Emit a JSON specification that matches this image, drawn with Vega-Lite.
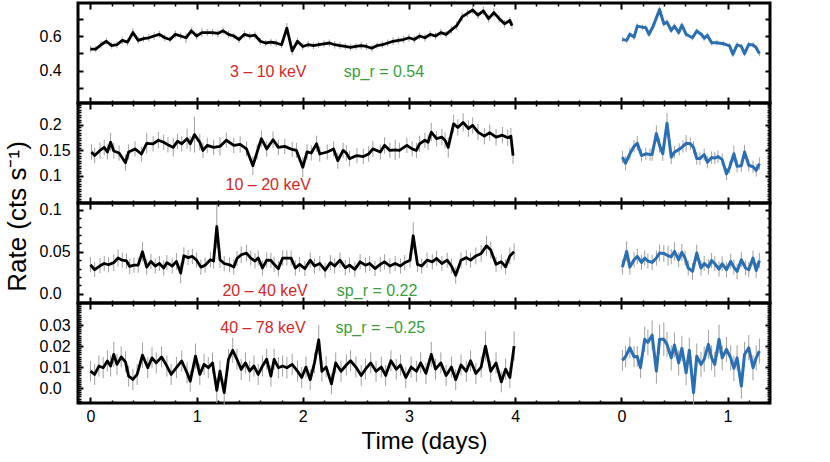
{
"$schema": "https://vega.github.io/schema/vega-lite/v6.json",
"background": "white",
"padding": {"left": 2, "top": 0, "right": 5, "bottom": 5},
"spacing": 0,
"bounds": "flush",
"config": {
 "view": {"stroke": "black", "strokeWidth": 3},
 "font": "Liberation Sans",
 "axis": {"domain": false, "grid": false, "tickColor": "black", "labelColor": "black", "labelFont": "Liberation Sans", "labelFontSize": 16, "titleFont": "Liberation Sans", "titleColor": "black", "titleFontWeight": "normal", "labelFlush": false, "labelOverlap": false}
},
"datasets": {
 "k1": [
  {"t":0,"r":0.525,"e":0.02},{"t":0.05,"r":0.525,"e":0.018},{"t":0.1,"r":0.55,"e":0.022},{"t":0.15,"r":0.57,"e":0.02},{"t":0.2,"r":0.545,"e":0.018},{"t":0.25,"r":0.55,"e":0.02},{"t":0.3,"r":0.575,"e":0.022},{"t":0.35,"r":0.565,"e":0.02},{"t":0.4,"r":0.62,"e":0.025},{"t":0.45,"r":0.575,"e":0.02},{"t":0.5,"r":0.585,"e":0.018},{"t":0.55,"r":0.59,"e":0.02},{"t":0.6,"r":0.6,"e":0.022},{"t":0.65,"r":0.61,"e":0.02},{"t":0.7,"r":0.59,"e":0.02},{"t":0.75,"r":0.58,"e":0.018},{"t":0.8,"r":0.61,"e":0.022},{"t":0.85,"r":0.6,"e":0.02},{"t":0.9,"r":0.59,"e":0.03},{"t":0.95,"r":0.63,"e":0.02},{"t":1,"r":0.6,"e":0.02},{"t":1.05,"r":0.62,"e":0.025},{"t":1.1,"r":0.62,"e":0.02},{"t":1.15,"r":0.62,"e":0.02},{"t":1.2,"r":0.615,"e":0.022},{"t":1.25,"r":0.63,"e":0.02},{"t":1.3,"r":0.61,"e":0.02},{"t":1.35,"r":0.6,"e":0.018},{"t":1.4,"r":0.58,"e":0.02},{"t":1.45,"r":0.61,"e":0.022},{"t":1.5,"r":0.6,"e":0.02},{"t":1.55,"r":0.605,"e":0.02},{"t":1.6,"r":0.57,"e":0.02},{"t":1.65,"r":0.56,"e":0.018},{"t":1.7,"r":0.565,"e":0.02},{"t":1.75,"r":0.56,"e":0.02},{"t":1.8,"r":0.55,"e":0.02},{"t":1.85,"r":0.645,"e":0.03},{"t":1.9,"r":0.515,"e":0.025},{"t":1.95,"r":0.57,"e":0.02},{"t":2,"r":0.54,"e":0.02},
  {"t":2.05,"r":0.55,"e":0.02},{"t":2.1,"r":0.545,"e":0.02},{"t":2.15,"r":0.55,"e":0.018},{"t":2.2,"r":0.555,"e":0.02},{"t":2.25,"r":0.56,"e":0.02},{"t":2.3,"r":0.55,"e":0.022},{"t":2.35,"r":0.545,"e":0.02},{"t":2.4,"r":0.54,"e":0.018},{"t":2.45,"r":0.535,"e":0.02},{"t":2.5,"r":0.54,"e":0.02},{"t":2.55,"r":0.545,"e":0.022},{"t":2.6,"r":0.54,"e":0.02},{"t":2.65,"r":0.53,"e":0.02},{"t":2.7,"r":0.545,"e":0.018},{"t":2.75,"r":0.55,"e":0.02},{"t":2.8,"r":0.56,"e":0.02},{"t":2.85,"r":0.57,"e":0.022},{"t":2.9,"r":0.575,"e":0.02},{"t":2.95,"r":0.58,"e":0.02},{"t":3,"r":0.59,"e":0.022},{"t":3.05,"r":0.58,"e":0.02},{"t":3.1,"r":0.6,"e":0.02},{"t":3.15,"r":0.59,"e":0.022},{"t":3.2,"r":0.61,"e":0.02},{"t":3.25,"r":0.6,"e":0.02},{"t":3.3,"r":0.62,"e":0.022},{"t":3.35,"r":0.61,"e":0.02},{"t":3.4,"r":0.635,"e":0.022},{"t":3.45,"r":0.66,"e":0.025},{"t":3.5,"r":0.71,"e":0.025},{"t":3.55,"r":0.73,"e":0.022},{"t":3.6,"r":0.75,"e":0.025},{"t":3.65,"r":0.72,"e":0.022},{"t":3.7,"r":0.745,"e":0.025},{"t":3.75,"r":0.7,"e":0.022},{"t":3.8,"r":0.735,"e":0.025},{"t":3.85,"r":0.7,"e":0.022},{"t":3.9,"r":0.67,"e":0.022},{"t":3.95,"r":0.69,"e":0.02},{"t":3.97,"r":0.66,"e":0.02}
 ],
 "b1": [
  {"t":5.01,"r":0.581,"e":0.015},{"t":5.05,"r":0.575,"e":0.015},{"t":5.08,"r":0.61,"e":0.015},{"t":5.12,"r":0.594,"e":0.015},{"t":5.15,"r":0.657,"e":0.015},{"t":5.2,"r":0.651,"e":0.015},{"t":5.23,"r":0.648,"e":0.015},{"t":5.26,"r":0.61,"e":0.015},{"t":5.3,"r":0.657,"e":0.015},{"t":5.36,"r":0.753,"e":0.018},{"t":5.4,"r":0.67,"e":0.015},{"t":5.43,"r":0.68,"e":0.015},{"t":5.47,"r":0.632,"e":0.015},{"t":5.5,"r":0.657,"e":0.015},{"t":5.54,"r":0.62,"e":0.015},{"t":5.57,"r":0.663,"e":0.015},{"t":5.61,"r":0.61,"e":0.015},{"t":5.67,"r":0.59,"e":0.015},{"t":5.71,"r":0.629,"e":0.015},{"t":5.76,"r":0.606,"e":0.015},{"t":5.78,"r":0.587,"e":0.015},{"t":5.81,"r":0.604,"e":0.015},{"t":5.85,"r":0.562,"e":0.015},{"t":5.9,"r":0.562,"e":0.015},{"t":5.96,"r":0.556,"e":0.015},{"t":6.02,"r":0.543,"e":0.015},{"t":6.05,"r":0.495,"e":0.015},{"t":6.09,"r":0.549,"e":0.015},{"t":6.13,"r":0.541,"e":0.015},{"t":6.16,"r":0.499,"e":0.015},{"t":6.2,"r":0.552,"e":0.015},{"t":6.24,"r":0.549,"e":0.015},{"t":6.27,"r":0.533,"e":0.015},{"t":6.3,"r":0.499,"e":0.015}
 ],
 "k2": [
  {"t":0.01,"r":0.147,"e":0.015},{"t":0.04,"r":0.14,"e":0.015},{"t":0.09,"r":0.15,"e":0.016},{"t":0.13,"r":0.156,"e":0.015},{"t":0.16,"r":0.147,"e":0.015},{"t":0.19,"r":0.166,"e":0.018},{"t":0.22,"r":0.149,"e":0.015},{"t":0.27,"r":0.145,"e":0.015},{"t":0.33,"r":0.126,"e":0.016},{"t":0.36,"r":0.147,"e":0.015},{"t":0.42,"r":0.153,"e":0.015},{"t":0.48,"r":0.143,"e":0.015},{"t":0.53,"r":0.164,"e":0.02},{"t":0.59,"r":0.163,"e":0.015},{"t":0.64,"r":0.17,"e":0.016},{"t":0.69,"r":0.166,"e":0.015},{"t":0.73,"r":0.161,"e":0.015},{"t":0.78,"r":0.156,"e":0.018},{"t":0.82,"r":0.168,"e":0.015},{"t":0.86,"r":0.163,"e":0.015},{"t":0.91,"r":0.173,"e":0.02},{"t":0.94,"r":0.163,"e":0.015},{"t":0.98,"r":0.181,"e":0.035},{"t":1.03,"r":0.166,"e":0.016},{"t":1.06,"r":0.15,"e":0.015},{"t":1.1,"r":0.16,"e":0.015},{"t":1.16,"r":0.156,"e":0.015},{"t":1.22,"r":0.158,"e":0.018},{"t":1.28,"r":0.17,"e":0.015},{"t":1.35,"r":0.16,"e":0.015},{"t":1.41,"r":0.162,"e":0.016},{"t":1.47,"r":0.153,"e":0.015},{"t":1.53,"r":0.12,"e":0.018},{"t":1.57,"r":0.147,"e":0.015},{"t":1.61,"r":0.173,"e":0.016},{"t":1.66,"r":0.153,"e":0.015},{"t":1.72,"r":0.171,"e":0.016},{"t":1.77,"r":0.156,"e":0.015},{"t":1.83,"r":0.158,"e":0.015},{"t":1.9,"r":0.152,"e":0.015},{"t":1.94,"r":0.15,"e":0.015},{"t":2,"r":0.117,"e":0.02},{"t":2.04,"r":0.147,"e":0.015},{"t":2.08,"r":0.145,"e":0.015},{"t":2.13,"r":0.163,"e":0.016},{"t":2.16,"r":0.143,"e":0.015},{"t":2.23,"r":0.147,"e":0.015},{"t":2.29,"r":0.153,"e":0.015},{"t":2.33,"r":0.13,"e":0.016},{"t":2.38,"r":0.15,"e":0.015},{"t":2.41,"r":0.145,"e":0.015},{"t":2.44,"r":0.134,"e":0.015},{"t":2.51,"r":0.14,"e":0.015},{"t":2.57,"r":0.138,"e":0.015},{"t":2.62,"r":0.143,"e":0.015},{"t":2.66,"r":0.153,"e":0.016},{"t":2.73,"r":0.147,"e":0.015},{"t":2.77,"r":0.16,"e":0.016},{"t":2.82,"r":0.15,"e":0.015},{"t":2.87,"r":0.151,"e":0.02},{"t":2.91,"r":0.15,"e":0.015},{"t":2.98,"r":0.16,"e":0.015},{"t":3.03,"r":0.153,"e":0.015},{"t":3.07,"r":0.15,"e":0.015},{"t":3.1,"r":0.163,"e":0.016},{"t":3.15,"r":0.17,"e":0.015},{"t":3.18,"r":0.166,"e":0.015},{"t":3.21,"r":0.186,"e":0.018},{"t":3.26,"r":0.173,"e":0.015},{"t":3.31,"r":0.176,"e":0.016},{"t":3.34,"r":0.17,"e":0.015},{"t":3.37,"r":0.156,"e":0.02},{"t":3.42,"r":0.202,"e":0.018},{"t":3.46,"r":0.195,"e":0.016},{"t":3.51,"r":0.205,"e":0.018},{"t":3.56,"r":0.193,"e":0.016},{"t":3.6,"r":0.199,"e":0.016},{"t":3.65,"r":0.186,"e":0.016},{"t":3.71,"r":0.178,"e":0.016},{"t":3.76,"r":0.185,"e":0.016},{"t":3.82,"r":0.176,"e":0.016},{"t":3.88,"r":0.18,"e":0.016},{"t":3.93,"r":0.175,"e":0.016},{"t":3.96,"r":0.178,"e":0.016},{"t":3.98,"r":0.14,"e":0.016}
 ],
 "b2": [
  {"t":5.01,"r":0.137,"e":0.012},{"t":5.04,"r":0.125,"e":0.014},{"t":5.08,"r":0.1435,"e":0.012},{"t":5.12,"r":0.158,"e":0.012},{"t":5.15,"r":0.164,"e":0.014},{"t":5.19,"r":0.14,"e":0.012},{"t":5.23,"r":0.1435,"e":0.012},{"t":5.27,"r":0.142,"e":0.012},{"t":5.29,"r":0.142,"e":0.012},{"t":5.33,"r":0.183,"e":0.016},{"t":5.36,"r":0.16,"e":0.014},{"t":5.39,"r":0.1435,"e":0.014},{"t":5.43,"r":0.2035,"e":0.02},{"t":5.47,"r":0.137,"e":0.014},{"t":5.5,"r":0.1467,"e":0.012},{"t":5.545,"r":0.152,"e":0.012},{"t":5.58,"r":0.158,"e":0.012},{"t":5.61,"r":0.164,"e":0.016},{"t":5.65,"r":0.163,"e":0.012},{"t":5.68,"r":0.156,"e":0.012},{"t":5.71,"r":0.134,"e":0.012},{"t":5.74,"r":0.134,"e":0.012},{"t":5.78,"r":0.142,"e":0.012},{"t":5.81,"r":0.127,"e":0.012},{"t":5.85,"r":0.136,"e":0.012},{"t":5.88,"r":0.135,"e":0.012},{"t":5.91,"r":0.138,"e":0.012},{"t":5.95,"r":0.132,"e":0.012},{"t":5.99,"r":0.104,"e":0.012},{"t":6.02,"r":0.117,"e":0.012},{"t":6.06,"r":0.1435,"e":0.016},{"t":6.09,"r":0.119,"e":0.012},{"t":6.13,"r":0.12,"e":0.012},{"t":6.16,"r":0.147,"e":0.014},{"t":6.2,"r":0.121,"e":0.012},{"t":6.24,"r":0.118,"e":0.012},{"t":6.27,"r":0.111,"e":0.012},{"t":6.3,"r":0.124,"e":0.012}
 ],
 "k3": [
  {"t":0,"r":0.0345,"e":0.009},{"t":0.04,"r":0.0286,"e":0.009},{"t":0.09,"r":0.0333,"e":0.009},{"t":0.13,"r":0.036,"e":0.009},{"t":0.17,"r":0.0345,"e":0.009},{"t":0.22,"r":0.037,"e":0.01},{"t":0.26,"r":0.0425,"e":0.01},{"t":0.3,"r":0.04,"e":0.009},{"t":0.34,"r":0.039,"e":0.009},{"t":0.37,"r":0.0325,"e":0.009},{"t":0.41,"r":0.034,"e":0.009},{"t":0.45,"r":0.034,"e":0.009},{"t":0.49,"r":0.05,"e":0.012},{"t":0.53,"r":0.0317,"e":0.009},{"t":0.57,"r":0.0385,"e":0.009},{"t":0.61,"r":0.033,"e":0.009},{"t":0.65,"r":0.036,"e":0.009},{"t":0.69,"r":0.0306,"e":0.009},{"t":0.72,"r":0.037,"e":0.009},{"t":0.77,"r":0.033,"e":0.009},{"t":0.81,"r":0.0385,"e":0.01},{"t":0.85,"r":0.0246,"e":0.012},{"t":0.88,"r":0.0452,"e":0.01},{"t":0.92,"r":0.043,"e":0.009},{"t":0.96,"r":0.0444,"e":0.009},{"t":1,"r":0.04,"e":0.009},{"t":1.04,"r":0.0317,"e":0.009},{"t":1.08,"r":0.034,"e":0.009},{"t":1.13,"r":0.0405,"e":0.009},{"t":1.16,"r":0.039,"e":0.009},{"t":1.19,"r":0.08,"e":0.026},{"t":1.22,"r":0.0405,"e":0.01},{"t":1.26,"r":0.036,"e":0.009},{"t":1.31,"r":0.0345,"e":0.009},{"t":1.35,"r":0.0317,"e":0.009},{"t":1.38,"r":0.042,"e":0.009},{"t":1.42,"r":0.0464,"e":0.01},{"t":1.47,"r":0.0484,"e":0.01},{"t":1.51,"r":0.0425,"e":0.009},{"t":1.55,"r":0.039,"e":0.009},{"t":1.58,"r":0.0425,"e":0.009},{"t":1.62,"r":0.0306,"e":0.009},{"t":1.66,"r":0.04,"e":0.009},{"t":1.7,"r":0.0396,"e":0.009},{"t":1.73,"r":0.035,"e":0.009},{"t":1.77,"r":0.0298,"e":0.009},{"t":1.81,"r":0.0425,"e":0.009},{"t":1.85,"r":0.0425,"e":0.009},{"t":1.89,"r":0.0425,"e":0.009},{"t":1.93,"r":0.0306,"e":0.009},{"t":1.97,"r":0.035,"e":0.009},
  {"t":2.02,"r":0.03,"e":0.009},{"t":2.07,"r":0.04,"e":0.009},{"t":2.11,"r":0.033,"e":0.009},{"t":2.16,"r":0.036,"e":0.009},{"t":2.21,"r":0.028,"e":0.009},{"t":2.26,"r":0.037,"e":0.009},{"t":2.3,"r":0.033,"e":0.009},{"t":2.35,"r":0.04,"e":0.009},{"t":2.4,"r":0.031,"e":0.009},{"t":2.44,"r":0.034,"e":0.009},{"t":2.49,"r":0.029,"e":0.009},{"t":2.54,"r":0.038,"e":0.009},{"t":2.59,"r":0.034,"e":0.009},{"t":2.63,"r":0.036,"e":0.009},{"t":2.68,"r":0.03,"e":0.009},{"t":2.73,"r":0.035,"e":0.009},{"t":2.77,"r":0.038,"e":0.009},{"t":2.82,"r":0.033,"e":0.009},{"t":2.87,"r":0.036,"e":0.009},{"t":2.92,"r":0.033,"e":0.009},{"t":2.96,"r":0.037,"e":0.009},{"t":3.01,"r":0.04,"e":0.009},{"t":3.04,"r":0.069,"e":0.016},{"t":3.08,"r":0.035,"e":0.009},{"t":3.12,"r":0.033,"e":0.009},{"t":3.17,"r":0.04,"e":0.009},{"t":3.22,"r":0.038,"e":0.009},{"t":3.26,"r":0.042,"e":0.009},{"t":3.31,"r":0.036,"e":0.009},{"t":3.36,"r":0.04,"e":0.009},{"t":3.4,"r":0.033,"e":0.009},{"t":3.44,"r":0.022,"e":0.01},{"t":3.49,"r":0.04,"e":0.009},{"t":3.54,"r":0.043,"e":0.009},{"t":3.58,"r":0.04,"e":0.009},{"t":3.63,"r":0.045,"e":0.01},{"t":3.68,"r":0.048,"e":0.01},{"t":3.73,"r":0.057,"e":0.012},{"t":3.77,"r":0.052,"e":0.01},{"t":3.82,"r":0.035,"e":0.009},{"t":3.87,"r":0.038,"e":0.009},{"t":3.91,"r":0.032,"e":0.009},{"t":3.95,"r":0.045,"e":0.01},{"t":3.99,"r":0.05,"e":0.01}
 ],
 "b3": [
  {"t":5.01,"r":0.0317,"e":0.009},{"t":5.05,"r":0.0504,"e":0.012},{"t":5.08,"r":0.0317,"e":0.009},{"t":5.12,"r":0.0405,"e":0.009},{"t":5.15,"r":0.0444,"e":0.009},{"t":5.19,"r":0.0373,"e":0.009},{"t":5.22,"r":0.0425,"e":0.009},{"t":5.25,"r":0.039,"e":0.009},{"t":5.29,"r":0.0373,"e":0.009},{"t":5.33,"r":0.0425,"e":0.009},{"t":5.36,"r":0.0484,"e":0.01},{"t":5.4,"r":0.048,"e":0.01},{"t":5.44,"r":0.0452,"e":0.012},{"t":5.47,"r":0.044,"e":0.009},{"t":5.5,"r":0.0504,"e":0.011},{"t":5.54,"r":0.0405,"e":0.009},{"t":5.57,"r":0.0492,"e":0.01},{"t":5.6,"r":0.0425,"e":0.009},{"t":5.63,"r":0.0306,"e":0.009},{"t":5.67,"r":0.0266,"e":0.01},{"t":5.71,"r":0.0484,"e":0.01},{"t":5.75,"r":0.0306,"e":0.009},{"t":5.78,"r":0.036,"e":0.009},{"t":5.82,"r":0.0317,"e":0.009},{"t":5.85,"r":0.0396,"e":0.009},{"t":5.88,"r":0.0357,"e":0.009},{"t":5.92,"r":0.0294,"e":0.009},{"t":5.95,"r":0.0357,"e":0.009},{"t":5.99,"r":0.0286,"e":0.009},{"t":6.03,"r":0.0385,"e":0.009},{"t":6.06,"r":0.0317,"e":0.009},{"t":6.09,"r":0.0266,"e":0.009},{"t":6.13,"r":0.0405,"e":0.009},{"t":6.17,"r":0.0306,"e":0.009},{"t":6.2,"r":0.0286,"e":0.009},{"t":6.24,"r":0.0425,"e":0.009},{"t":6.27,"r":0.0277,"e":0.009},{"t":6.3,"r":0.0396,"e":0.009}
 ],
 "k4": [
  {"t":0,"r":0.0081,"e":0.005},{"t":0.04,"r":0.0065,"e":0.005},{"t":0.08,"r":0.0105,"e":0.005},{"t":0.12,"r":0.0097,"e":0.005},{"t":0.16,"r":0.0129,"e":0.005},{"t":0.19,"r":0.0105,"e":0.005},{"t":0.22,"r":0.016,"e":0.006},{"t":0.25,"r":0.0113,"e":0.005},{"t":0.29,"r":0.0148,"e":0.005},{"t":0.33,"r":0.0125,"e":0.005},{"t":0.36,"r":0.0057,"e":0.005},{"t":0.4,"r":0.0041,"e":0.005},{"t":0.44,"r":0.0065,"e":0.005},{"t":0.49,"r":0.0157,"e":0.006},{"t":0.54,"r":0.0097,"e":0.005},{"t":0.58,"r":0.0144,"e":0.005},{"t":0.62,"r":0.012,"e":0.005},{"t":0.67,"r":0.0148,"e":0.005},{"t":0.72,"r":0.0105,"e":0.005},{"t":0.76,"r":0.0065,"e":0.005},{"t":0.81,"r":0.0097,"e":0.005},{"t":0.86,"r":0.0129,"e":0.005},{"t":0.91,"r":0.0073,"e":0.005},{"t":0.94,"r":0.0033,"e":0.005},{"t":0.99,"r":0.0152,"e":0.006},{"t":1.03,"r":0.0065,"e":0.005},{"t":1.07,"r":0.0113,"e":0.005},{"t":1.11,"r":0.0097,"e":0.005},{"t":1.15,"r":0.012,"e":0.005},{"t":1.19,"r":-0.0011,"e":0.006},{"t":1.22,"r":0.0081,"e":0.005},{"t":1.26,"r":-0.0022,"e":0.006},{"t":1.3,"r":0.0137,"e":0.005},{"t":1.34,"r":0.018,"e":0.006},{"t":1.38,"r":0.0137,"e":0.005},{"t":1.42,"r":0.0089,"e":0.005},{"t":1.46,"r":0.012,"e":0.005},{"t":1.5,"r":0.0081,"e":0.005},{"t":1.54,"r":0.0105,"e":0.005},{"t":1.58,"r":0.0065,"e":0.005},{"t":1.62,"r":0.0105,"e":0.005},{"t":1.66,"r":0.0137,"e":0.005},{"t":1.7,"r":0.0057,"e":0.005},{"t":1.73,"r":0.0137,"e":0.005},{"t":1.77,"r":0.0097,"e":0.005},{"t":1.81,"r":0.0105,"e":0.005},{"t":1.85,"r":0.0097,"e":0.005},{"t":1.9,"r":0.0113,"e":0.005},{"t":1.95,"r":0.0081,"e":0.005},
  {"t":1.99,"r":0.005,"e":0.005},{"t":2.03,"r":0.01,"e":0.005},{"t":2.07,"r":0.004,"e":0.005},{"t":2.11,"r":0.012,"e":0.005},{"t":2.15,"r":0.023,"e":0.007},{"t":2.18,"r":0.008,"e":0.005},{"t":2.22,"r":0.01,"e":0.005},{"t":2.27,"r":0.002,"e":0.005},{"t":2.31,"r":0.012,"e":0.005},{"t":2.36,"r":0.008,"e":0.005},{"t":2.41,"r":0.011,"e":0.005},{"t":2.45,"r":0.013,"e":0.005},{"t":2.5,"r":0.01,"e":0.005},{"t":2.55,"r":0.006,"e":0.005},{"t":2.59,"r":0.009,"e":0.005},{"t":2.64,"r":0.012,"e":0.005},{"t":2.69,"r":0.008,"e":0.005},{"t":2.74,"r":0.01,"e":0.005},{"t":2.78,"r":0.006,"e":0.005},{"t":2.83,"r":0.013,"e":0.005},{"t":2.88,"r":0.009,"e":0.005},{"t":2.92,"r":0.011,"e":0.005},{"t":2.97,"r":0.005,"e":0.005},{"t":3.02,"r":0.01,"e":0.005},{"t":3.07,"r":0.008,"e":0.005},{"t":3.11,"r":0.012,"e":0.005},{"t":3.16,"r":0.007,"e":0.005},{"t":3.21,"r":0.016,"e":0.006},{"t":3.25,"r":0.009,"e":0.005},{"t":3.3,"r":0.012,"e":0.005},{"t":3.35,"r":0.006,"e":0.005},{"t":3.4,"r":0.01,"e":0.005},{"t":3.44,"r":0.004,"e":0.005},{"t":3.49,"r":0.011,"e":0.005},{"t":3.54,"r":0.008,"e":0.005},{"t":3.58,"r":0.013,"e":0.005},{"t":3.63,"r":0.007,"e":0.005},{"t":3.68,"r":0.01,"e":0.005},{"t":3.72,"r":0.02,"e":0.007},{"t":3.77,"r":0.008,"e":0.005},{"t":3.82,"r":0.012,"e":0.005},{"t":3.87,"r":0.003,"e":0.005},{"t":3.91,"r":0.009,"e":0.005},{"t":3.95,"r":0.005,"e":0.005},{"t":3.99,"r":0.02,"e":0.007}
 ],
 "b4": [
  {"t":5.01,"r":0.0132,"e":0.005},{"t":5.04,"r":0.015,"e":0.005},{"t":5.08,"r":0.0192,"e":0.005},{"t":5.12,"r":0.0149,"e":0.005},{"t":5.15,"r":0.015,"e":0.005},{"t":5.18,"r":0.0097,"e":0.005},{"t":5.22,"r":0.0232,"e":0.006},{"t":5.25,"r":0.0218,"e":0.006},{"t":5.29,"r":0.0252,"e":0.007},{"t":5.33,"r":0.0081,"e":0.006},{"t":5.36,"r":0.0232,"e":0.007},{"t":5.4,"r":0.0232,"e":0.008},{"t":5.43,"r":0.0208,"e":0.006},{"t":5.47,"r":0.0144,"e":0.006},{"t":5.5,"r":0.0205,"e":0.006},{"t":5.54,"r":0.012,"e":0.006},{"t":5.57,"r":0.0189,"e":0.006},{"t":5.61,"r":0.0073,"e":0.006},{"t":5.64,"r":0.018,"e":0.006},{"t":5.68,"r":-0.0022,"e":0.006},{"t":5.71,"r":0.0152,"e":0.006},{"t":5.75,"r":0.0113,"e":0.006},{"t":5.78,"r":0.0137,"e":0.006},{"t":5.82,"r":0.0208,"e":0.007},{"t":5.85,"r":0.0144,"e":0.006},{"t":5.88,"r":0.0113,"e":0.006},{"t":5.92,"r":0.0232,"e":0.007},{"t":5.95,"r":0.0144,"e":0.006},{"t":5.99,"r":0.0184,"e":0.006},{"t":6.03,"r":0.0144,"e":0.006},{"t":6.06,"r":0.0094,"e":0.006},{"t":6.09,"r":0.0144,"e":0.006},{"t":6.13,"r":0.001,"e":0.006},{"t":6.16,"r":0.016,"e":0.006},{"t":6.2,"r":0.0192,"e":0.006},{"t":6.24,"r":0.0097,"e":0.006},{"t":6.27,"r":0.0144,"e":0.006},{"t":6.3,"r":0.0176,"e":0.006}
 ]
},
"vconcat": [
 {
  "width": 692, "height": 100,
  "resolve": {"axis": {"x": "independent", "y": "independent"}},
  "layer": [
   {"data": {"name": "k1"}, "mark": {"type": "errorbar", "color": "#a0a0a0", "thickness": 1},
    "encoding": {
     "x": {"field": "t", "type": "quantitative", "scale": {"domain": [-0.117, 6.4], "nice": false, "zero": false}, "axis": {"orient": "bottom", "values": [0,1,2,3,4,5,6], "tickSize": -6, "tickWidth": 2, "labels": false, "title": null}},
     "y": {"field": "r", "type": "quantitative", "scale": {"domain": [0.215, 0.79], "nice": false, "zero": false}, "axis": {"orient": "left", "values": [0.4, 0.6], "tickSize": -5, "tickWidth": 2, "labelAlign": "left", "labelBaseline": "middle", "labelPadding": 44, "format": ".1f", "title": null}},
     "yError": {"field": "e"}}},
   {"data": {"name": "b1"}, "mark": {"type": "errorbar", "color": "#a0a0a0", "thickness": 1},
    "encoding": {
     "x": {"field": "t", "type": "quantitative", "scale": {"domain": [-0.117, 6.4], "nice": false, "zero": false}, "axis": null},
     "y": {"field": "r", "type": "quantitative", "scale": {"domain": [0.215, 0.79], "nice": false, "zero": false}, "axis": null},
     "yError": {"field": "e"}}},
   {"data": {"name": "k1"}, "mark": {"type": "line", "color": "black", "strokeWidth": 2.8, "strokeJoin": "round", "clip": true},
    "encoding": {
     "x": {"field": "t", "type": "quantitative", "scale": {"domain": [-0.117, 6.4], "nice": false, "zero": false}, "axis": {"orient": "bottom", "values": [0.2,0.4,0.6,0.8,1.2,1.4,1.6,1.8,2.2,2.4,2.6,2.8,3.2,3.4,3.6,3.8,4.2,4.4,4.6,4.8,5.2,5.4,5.6,5.8,6.2], "tickSize": -3, "tickWidth": 1.5, "labels": false, "title": null}},
     "y": {"field": "r", "type": "quantitative", "scale": {"domain": [0.215, 0.79], "nice": false, "zero": false}, "axis": {"orient": "left", "values": [0.3, 0.5, 0.7], "tickSize": -5, "tickWidth": 2, "labels": false, "title": null}}}},
   {"data": {"name": "b1"}, "mark": {"type": "line", "color": "#2a6fb3", "strokeWidth": 3, "strokeJoin": "round", "clip": true},
    "encoding": {
     "x": {"field": "t", "type": "quantitative", "scale": {"domain": [-0.117, 6.4], "nice": false, "zero": false}, "axis": {"orient": "top", "values": [0,1,2,3,4,5,6], "tickSize": -6, "tickWidth": 2, "labels": false, "title": null}},
     "y": {"field": "r", "type": "quantitative", "scale": {"domain": [0.215, 0.79], "nice": false, "zero": false}, "axis": {"orient": "right", "values": [0.4, 0.6], "tickSize": -5, "tickWidth": 2, "labels": false, "title": null}}}},
   {"data": {"values": [{"t": 1.675, "r": 0.394, "txt": "3 – 10 keV", "kind": "band"}, {"t": 2.764, "r": 0.394, "txt": "sp_r = 0.54", "kind": "corr"}]},
    "mark": {"type": "text", "fontSize": 16, "font": "Liberation Sans", "align": "center", "baseline": "middle"},
    "encoding": {
     "x": {"field": "t", "type": "quantitative", "scale": {"domain": [-0.117, 6.4], "nice": false, "zero": false}, "axis": {"orient": "top", "values": [0.2,0.4,0.6,0.8,1.2,1.4,1.6,1.8,2.2,2.4,2.6,2.8,3.2,3.4,3.6,3.8,4.2,4.4,4.6,4.8,5.2,5.4,5.6,5.8,6.2], "tickSize": -3, "tickWidth": 1.5, "labels": false, "title": null}},
     "y": {"field": "r", "type": "quantitative", "scale": {"domain": [0.215, 0.79], "nice": false, "zero": false}, "axis": {"orient": "right", "values": [0.3, 0.5, 0.7], "tickSize": -5, "tickWidth": 2, "labels": false, "title": null}},
     "text": {"field": "txt"},
     "color": {"field": "kind", "type": "nominal", "scale": {"domain": ["band", "corr"], "range": ["#d62728", "#3a9e3a"]}, "legend": null}}}
  ]
 },
 {
  "width": 692, "height": 100,
  "resolve": {"axis": {"x": "independent", "y": "independent"}},
  "layer": [
   {"data": {"name": "k2"}, "mark": {"type": "errorbar", "color": "#a0a0a0", "thickness": 1},
    "encoding": {
     "x": {"field": "t", "type": "quantitative", "scale": {"domain": [-0.117, 6.4], "nice": false, "zero": false}, "axis": {"orient": "bottom", "values": [0,1,2,3,4,5,6], "tickSize": -6, "tickWidth": 2, "labels": false, "title": null}},
     "y": {"field": "r", "type": "quantitative", "scale": {"domain": [0.047, 0.243], "nice": false, "zero": false}, "axis": {"orient": "left", "values": [0.1, 0.15, 0.2], "tickSize": -5, "tickWidth": 2, "labelAlign": "left", "labelBaseline": "middle", "labelPadding": 44, "format": ".2~f", "title": "Rate (cts s⁻¹)", "titleFontSize": 26, "titleX": -53, "titleY": 113, "titleAlign": "center", "titleBaseline": "alphabetic", "titleAngle": -90}},
     "yError": {"field": "e"}}},
   {"data": {"name": "b2"}, "mark": {"type": "errorbar", "color": "#a0a0a0", "thickness": 1},
    "encoding": {
     "x": {"field": "t", "type": "quantitative", "scale": {"domain": [-0.117, 6.4], "nice": false, "zero": false}, "axis": null},
     "y": {"field": "r", "type": "quantitative", "scale": {"domain": [0.047, 0.243], "nice": false, "zero": false}, "axis": null},
     "yError": {"field": "e"}}},
   {"data": {"name": "k2"}, "mark": {"type": "line", "color": "black", "strokeWidth": 2.8, "strokeJoin": "round", "clip": true},
    "encoding": {
     "x": {"field": "t", "type": "quantitative", "scale": {"domain": [-0.117, 6.4], "nice": false, "zero": false}, "axis": {"orient": "bottom", "values": [0.2,0.4,0.6,0.8,1.2,1.4,1.6,1.8,2.2,2.4,2.6,2.8,3.2,3.4,3.6,3.8,4.2,4.4,4.6,4.8,5.2,5.4,5.6,5.8,6.2], "tickSize": -3, "tickWidth": 1.5, "labels": false, "title": null}},
     "y": {"field": "r", "type": "quantitative", "scale": {"domain": [0.047, 0.243], "nice": false, "zero": false}, "axis": {"orient": "left", "values": [0.05,0.055,0.06,0.065,0.07,0.075,0.08,0.085,0.09,0.095,0.105,0.11,0.115,0.12,0.125,0.13,0.135,0.14,0.145,0.155,0.16,0.165,0.17,0.175,0.18,0.185,0.19,0.195,0.205,0.21,0.215,0.22,0.225,0.23,0.235,0.24], "tickSize": -3, "tickWidth": 1.5, "labels": false, "title": null}}}},
   {"data": {"name": "b2"}, "mark": {"type": "line", "color": "#2a6fb3", "strokeWidth": 3, "strokeJoin": "round", "clip": true},
    "encoding": {
     "x": {"field": "t", "type": "quantitative", "scale": {"domain": [-0.117, 6.4], "nice": false, "zero": false}, "axis": {"orient": "top", "values": [0,1,2,3,4,5,6], "tickSize": -6, "tickWidth": 2, "labels": false, "title": null}},
     "y": {"field": "r", "type": "quantitative", "scale": {"domain": [0.047, 0.243], "nice": false, "zero": false}, "axis": {"orient": "right", "values": [0.1, 0.15, 0.2], "tickSize": -5, "tickWidth": 2, "labels": false, "title": null}}}},
   {"data": {"values": [{"t": 1.675, "r": 0.0814, "txt": "10 – 20 keV", "kind": "band"}]},
    "mark": {"type": "text", "fontSize": 16, "font": "Liberation Sans", "align": "center", "baseline": "middle"},
    "encoding": {
     "x": {"field": "t", "type": "quantitative", "scale": {"domain": [-0.117, 6.4], "nice": false, "zero": false}, "axis": {"orient": "top", "values": [0.2,0.4,0.6,0.8,1.2,1.4,1.6,1.8,2.2,2.4,2.6,2.8,3.2,3.4,3.6,3.8,4.2,4.4,4.6,4.8,5.2,5.4,5.6,5.8,6.2], "tickSize": -3, "tickWidth": 1.5, "labels": false, "title": null}},
     "y": {"field": "r", "type": "quantitative", "scale": {"domain": [0.047, 0.243], "nice": false, "zero": false}, "axis": {"orient": "right", "values": [0.05,0.055,0.06,0.065,0.07,0.075,0.08,0.085,0.09,0.095,0.105,0.11,0.115,0.12,0.125,0.13,0.135,0.14,0.145,0.155,0.16,0.165,0.17,0.175,0.18,0.185,0.19,0.195,0.205,0.21,0.215,0.22,0.225,0.23,0.235,0.24], "tickSize": -3, "tickWidth": 1.5, "labels": false, "title": null}},
     "text": {"field": "txt"},
     "color": {"field": "kind", "type": "nominal", "scale": {"domain": ["band", "corr"], "range": ["#d62728", "#3a9e3a"]}, "legend": null}}}
  ]
 },
 {
  "width": 692, "height": 100,
  "resolve": {"axis": {"x": "independent", "y": "independent"}},
  "layer": [
   {"data": {"name": "k3"}, "mark": {"type": "errorbar", "color": "#a0a0a0", "thickness": 1},
    "encoding": {
     "x": {"field": "t", "type": "quantitative", "scale": {"domain": [-0.117, 6.4], "nice": false, "zero": false}, "axis": {"orient": "bottom", "values": [0,1,2,3,4,5,6], "tickSize": -6, "tickWidth": 2, "labels": false, "title": null}},
     "y": {"field": "r", "type": "quantitative", "scale": {"domain": [-0.011, 0.108], "nice": false, "zero": false}, "axis": {"orient": "left", "values": [0, 0.05, 0.1], "tickSize": -5, "tickWidth": 2, "labelAlign": "left", "labelBaseline": "middle", "labelPadding": 44, "labelExpr": "datum.value == 0 ? '0.0' : format(datum.value, '.2~f')", "title": null}},
     "yError": {"field": "e"}}},
   {"data": {"name": "b3"}, "mark": {"type": "errorbar", "color": "#a0a0a0", "thickness": 1},
    "encoding": {
     "x": {"field": "t", "type": "quantitative", "scale": {"domain": [-0.117, 6.4], "nice": false, "zero": false}, "axis": null},
     "y": {"field": "r", "type": "quantitative", "scale": {"domain": [-0.011, 0.108], "nice": false, "zero": false}, "axis": null},
     "yError": {"field": "e"}}},
   {"data": {"name": "k3"}, "mark": {"type": "line", "color": "black", "strokeWidth": 2.8, "strokeJoin": "round", "clip": true},
    "encoding": {
     "x": {"field": "t", "type": "quantitative", "scale": {"domain": [-0.117, 6.4], "nice": false, "zero": false}, "axis": {"orient": "bottom", "values": [0.2,0.4,0.6,0.8,1.2,1.4,1.6,1.8,2.2,2.4,2.6,2.8,3.2,3.4,3.6,3.8,4.2,4.4,4.6,4.8,5.2,5.4,5.6,5.8,6.2], "tickSize": -3, "tickWidth": 1.5, "labels": false, "title": null}},
     "y": {"field": "r", "type": "quantitative", "scale": {"domain": [-0.011, 0.108], "nice": false, "zero": false}, "axis": {"orient": "left", "values": [-0.01, 0.01, 0.02, 0.03, 0.04, 0.06, 0.07, 0.08, 0.09], "tickSize": -3, "tickWidth": 1.5, "labels": false, "title": null}}}},
   {"data": {"name": "b3"}, "mark": {"type": "line", "color": "#2a6fb3", "strokeWidth": 3, "strokeJoin": "round", "clip": true},
    "encoding": {
     "x": {"field": "t", "type": "quantitative", "scale": {"domain": [-0.117, 6.4], "nice": false, "zero": false}, "axis": {"orient": "top", "values": [0,1,2,3,4,5,6], "tickSize": -6, "tickWidth": 2, "labels": false, "title": null}},
     "y": {"field": "r", "type": "quantitative", "scale": {"domain": [-0.011, 0.108], "nice": false, "zero": false}, "axis": {"orient": "right", "values": [0, 0.05, 0.1], "tickSize": -5, "tickWidth": 2, "labels": false, "title": null}}}},
   {"data": {"values": [{"t": 1.645, "r": 0.0036, "txt": "20 – 40 keV", "kind": "band"}, {"t": 2.7, "r": 0.0036, "txt": "sp_r = 0.22", "kind": "corr"}]},
    "mark": {"type": "text", "fontSize": 16, "font": "Liberation Sans", "align": "center", "baseline": "middle"},
    "encoding": {
     "x": {"field": "t", "type": "quantitative", "scale": {"domain": [-0.117, 6.4], "nice": false, "zero": false}, "axis": {"orient": "top", "values": [0.2,0.4,0.6,0.8,1.2,1.4,1.6,1.8,2.2,2.4,2.6,2.8,3.2,3.4,3.6,3.8,4.2,4.4,4.6,4.8,5.2,5.4,5.6,5.8,6.2], "tickSize": -3, "tickWidth": 1.5, "labels": false, "title": null}},
     "y": {"field": "r", "type": "quantitative", "scale": {"domain": [-0.011, 0.108], "nice": false, "zero": false}, "axis": {"orient": "right", "values": [-0.01, 0.01, 0.02, 0.03, 0.04, 0.06, 0.07, 0.08, 0.09], "tickSize": -3, "tickWidth": 1.5, "labels": false, "title": null}},
     "text": {"field": "txt"},
     "color": {"field": "kind", "type": "nominal", "scale": {"domain": ["band", "corr"], "range": ["#d62728", "#3a9e3a"]}, "legend": null}}}
  ]
 },
 {
  "width": 692, "height": 100,
  "resolve": {"axis": {"x": "independent", "y": "independent"}},
  "layer": [
   {"data": {"name": "k4"}, "mark": {"type": "errorbar", "color": "#a0a0a0", "thickness": 1},
    "encoding": {
     "x": {"field": "t", "type": "quantitative", "scale": {"domain": [-0.117, 6.4], "nice": false, "zero": false}, "axis": {"orient": "bottom", "values": [0,1,2,3,4,5,6], "tickSize": -6, "tickWidth": 2, "labelPadding": 11, "labelExpr": "datum.value >= 5 ? format(datum.value - 5, 'd') : format(datum.value, 'd')", "title": "Time (days)", "titleFontSize": 24, "titlePadding": 5}},
     "y": {"field": "r", "type": "quantitative", "scale": {"domain": [-0.0071, 0.0405], "nice": false, "zero": false}, "axis": {"orient": "left", "values": [0, 0.01, 0.02, 0.03], "tickSize": -5, "tickWidth": 2, "labelAlign": "left", "labelBaseline": "middle", "labelPadding": 44, "labelExpr": "datum.value == 0 ? '0.0' : format(datum.value, '.2~f')", "title": null}},
     "yError": {"field": "e"}}},
   {"data": {"name": "b4"}, "mark": {"type": "errorbar", "color": "#a0a0a0", "thickness": 1},
    "encoding": {
     "x": {"field": "t", "type": "quantitative", "scale": {"domain": [-0.117, 6.4], "nice": false, "zero": false}, "axis": null},
     "y": {"field": "r", "type": "quantitative", "scale": {"domain": [-0.0071, 0.0405], "nice": false, "zero": false}, "axis": null},
     "yError": {"field": "e"}}},
   {"data": {"name": "k4"}, "mark": {"type": "line", "color": "black", "strokeWidth": 2.8, "strokeJoin": "round", "clip": true},
    "encoding": {
     "x": {"field": "t", "type": "quantitative", "scale": {"domain": [-0.117, 6.4], "nice": false, "zero": false}, "axis": {"orient": "bottom", "values": [0.2,0.4,0.6,0.8,1.2,1.4,1.6,1.8,2.2,2.4,2.6,2.8,3.2,3.4,3.6,3.8,4.2,4.4,4.6,4.8,5.2,5.4,5.6,5.8,6.2], "tickSize": -3, "tickWidth": 1.5, "labels": false, "title": null}},
     "y": {"field": "r", "type": "quantitative", "scale": {"domain": [-0.0071, 0.0405], "nice": false, "zero": false}, "axis": {"orient": "left", "values": [-0.007,-0.006,-0.005,-0.004,-0.003,-0.002,-0.001,0.001,0.002,0.003,0.004,0.005,0.006,0.007,0.008,0.009,0.011,0.012,0.013,0.014,0.015,0.016,0.017,0.018,0.019,0.021,0.022,0.023,0.024,0.025,0.026,0.027,0.028,0.029,0.031,0.032,0.033,0.034,0.035,0.036,0.037,0.038,0.039,0.04], "tickSize": -3, "tickWidth": 1.5, "labels": false, "title": null}}}},
   {"data": {"name": "b4"}, "mark": {"type": "line", "color": "#2a6fb3", "strokeWidth": 3, "strokeJoin": "round", "clip": true},
    "encoding": {
     "x": {"field": "t", "type": "quantitative", "scale": {"domain": [-0.117, 6.4], "nice": false, "zero": false}, "axis": {"orient": "top", "values": [0,1,2,3,4,5,6], "tickSize": -6, "tickWidth": 2, "labels": false, "title": null}},
     "y": {"field": "r", "type": "quantitative", "scale": {"domain": [-0.0071, 0.0405], "nice": false, "zero": false}, "axis": {"orient": "right", "values": [0, 0.01, 0.02, 0.03], "tickSize": -5, "tickWidth": 2, "labels": false, "title": null}}}},
   {"data": {"values": [{"t": 1.625, "r": 0.0286, "txt": "40 – 78 keV", "kind": "band"}, {"t": 2.73, "r": 0.0286, "txt": "sp_r = −0.25", "kind": "corr"}]},
    "mark": {"type": "text", "fontSize": 16, "font": "Liberation Sans", "align": "center", "baseline": "middle"},
    "encoding": {
     "x": {"field": "t", "type": "quantitative", "scale": {"domain": [-0.117, 6.4], "nice": false, "zero": false}, "axis": {"orient": "top", "values": [0.2,0.4,0.6,0.8,1.2,1.4,1.6,1.8,2.2,2.4,2.6,2.8,3.2,3.4,3.6,3.8,4.2,4.4,4.6,4.8,5.2,5.4,5.6,5.8,6.2], "tickSize": -3, "tickWidth": 1.5, "labels": false, "title": null}},
     "y": {"field": "r", "type": "quantitative", "scale": {"domain": [-0.0071, 0.0405], "nice": false, "zero": false}, "axis": {"orient": "right", "values": [-0.007,-0.006,-0.005,-0.004,-0.003,-0.002,-0.001,0.001,0.002,0.003,0.004,0.005,0.006,0.007,0.008,0.009,0.011,0.012,0.013,0.014,0.015,0.016,0.017,0.018,0.019,0.021,0.022,0.023,0.024,0.025,0.026,0.027,0.028,0.029,0.031,0.032,0.033,0.034,0.035,0.036,0.037,0.038,0.039,0.04], "tickSize": -3, "tickWidth": 1.5, "labels": false, "title": null}},
     "text": {"field": "txt"},
     "color": {"field": "kind", "type": "nominal", "scale": {"domain": ["band", "corr"], "range": ["#d62728", "#3a9e3a"]}, "legend": null}}}
  ]
 }
]
}
